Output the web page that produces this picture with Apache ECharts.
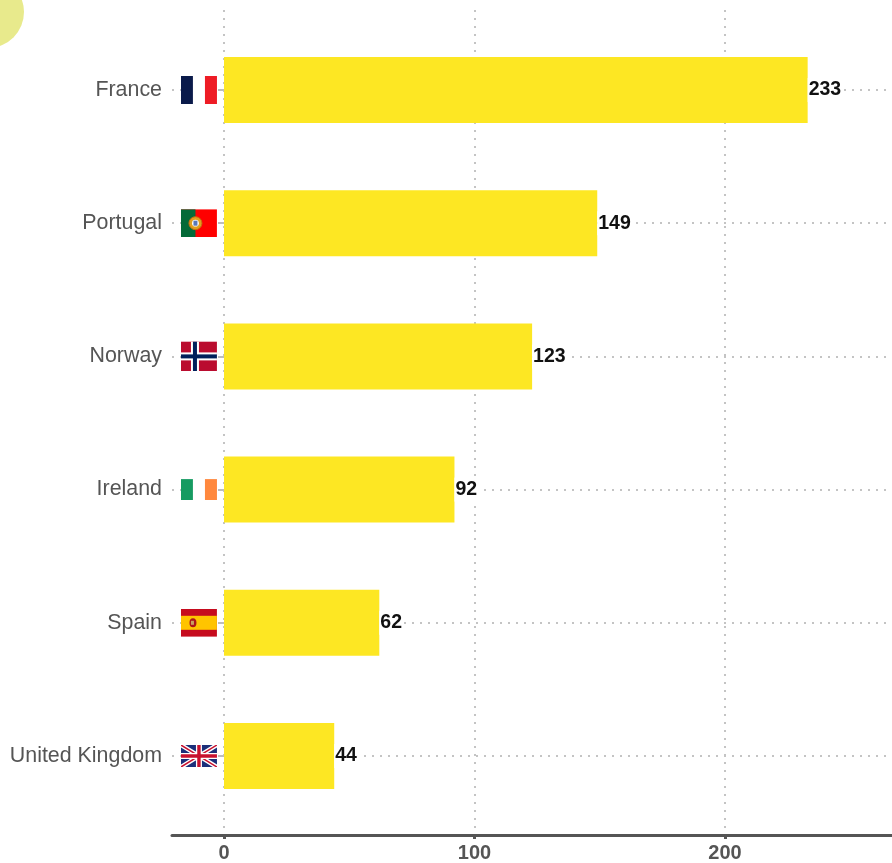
<!DOCTYPE html>
<html><head><meta charset="utf-8">
<style>html,body{margin:0;padding:0;background:#fff}#c{width:892px;height:863px;filter:blur(0.45px)}</style>
<script src="https://cdn.jsdelivr.net/npm/echarts@6/dist/echarts.min.js"></script>
</head><body><div id="c"></div>
<script>
const countries = ['France','Portugal','Norway','Ireland','Spain','United Kingdom'];
const values = [233,149,123,92,62,44];
const xTicks = [0,100,200];
const xMin = -20.76, xMax = 266.67;
const flagX = -10;

function svg(w,h,body){return 'image://data:image/svg+xml;utf8,'+encodeURIComponent(
 `<svg xmlns="http://www.w3.org/2000/svg" width="${w*4}" height="${h*4}" viewBox="0 0 ${w} ${h}">${body}</svg>`);}
const flags = {
 'France':[36,28,svg(36,28,'<rect width="12" height="28" fill="#0a1a4a"/><rect x="12" width="12" height="28" fill="#fff"/><rect x="24" width="12" height="28" fill="#ee1c25"/>')],
 'Portugal':[36,28,svg(36,28,'<rect width="36" height="28" fill="#ff0000"/><rect width="14.5" height="28" fill="#046a38"/><circle cx="14.5" cy="14" r="6.5" fill="#e0a020" stroke="#c86a10"/><circle cx="14.5" cy="14" r="3.4" fill="#fff"/><rect x="12.5" y="11.5" width="4" height="5" fill="#5a78b8"/>')],
 'Norway':[36,30,svg(36,30,'<rect width="36" height="30" fill="#ba0c2f"/><rect x="10" width="8" height="30" fill="#fff"/><rect y="11" width="36" height="8" fill="#fff"/><rect x="12" width="4" height="30" fill="#00205b"/><rect y="13" width="36" height="4" fill="#00205b"/>')],
 'Ireland':[36,21,svg(36,21,'<rect width="12" height="21" fill="#169b62"/><rect x="12" width="12" height="21" fill="#fff"/><rect x="24" width="12" height="21" fill="#ff883e"/>')],
 'Spain':[36,28,svg(36,28,'<rect width="36" height="28" fill="#c60b1e"/><rect y="7" width="36" height="14" fill="#ffc400"/><ellipse cx="12" cy="14" rx="3.5" ry="4.5" fill="#ad1519"/><rect x="10" y="12" width="3" height="4" fill="#c8a060"/>')],
 'United Kingdom':[36,22,svg(36,22,'<rect width="36" height="22" fill="#1c2f7a"/><path d="M0 0L36 22M36 0L0 22" stroke="#fff" stroke-width="4.4"/><path d="M0 0L36 22M36 0L0 22" stroke="#c8102e" stroke-width="1.5"/><path d="M18 0V22M0 11H36" stroke="#fff" stroke-width="6"/><path d="M18 0V22M0 11H36" stroke="#c8102e" stroke-width="3.4"/>')]
};
const flagData = countries.map(c=>({value:[flagX,c],symbol:flags[c][2],symbolSize:[flags[c][0],flags[c][1]]}));
const dotted = {color:'#c4c4c4',width:2,type:[2,6]};
const chart = echarts.init(document.getElementById('c'),null,{renderer:'canvas'});
chart.setOption({
 animation:false,
 backgroundColor:'#fff',
 graphic:[{type:'circle',shape:{cx:-12,cy:12,r:36},style:{fill:'#e8ea8c'},silent:true,z:-1}],
 grid:[
  {left:172,right:0,top:23.4,bottom:40.4,containLabel:false},
  {left:172,right:0,top:10,bottom:27,containLabel:false}
 ],
 xAxis:[
  {gridIndex:0,type:'value',min:xMin,max:xMax,show:false},
  {gridIndex:1,type:'value',min:xMin,max:xMax,
   axisLine:{show:true,onZero:false,lineStyle:{color:'#555',width:3}},
   axisTick:{show:true,length:4,customValues:xTicks,lineStyle:{color:'#555',width:3}},
   axisLabel:{show:true,customValues:xTicks,margin:8,color:'#555',fontFamily:'Liberation Sans',fontSize:20,fontWeight:'bold',showMinLabel:true},
   splitLine:{show:true,lineStyle:dotted}}
 ],
 yAxis:[
  {gridIndex:0,type:'category',inverse:true,data:countries,
   axisLine:{show:false},
   axisTick:{show:true,alignWithLabel:true,length:6,lineStyle:{color:'#bdbdbd',width:2}},
   axisLabel:{margin:10,color:'#555',fontFamily:'Liberation Sans',fontSize:21.4,padding:[4,0,0,0]},
   splitLine:{show:true,alignWithLabel:true,lineStyle:dotted}},
  {gridIndex:1,type:'category',inverse:true,data:countries,show:false}
 ],
 series:[
  {type:'bar',xAxisIndex:0,yAxisIndex:0,data:values,barWidth:66,
   itemStyle:{color:'#fde723'},
   label:{show:true,position:'right',distance:0,color:'#111',fontFamily:'Liberation Sans',fontSize:19.5,fontWeight:'bold',backgroundColor:'#fff',padding:[4,1,0,1]}},
  {type:'scatter',xAxisIndex:0,yAxisIndex:0,data:flagData,z:3,silent:true,itemStyle:{opacity:1}}
 ]
});
</script></body></html>
